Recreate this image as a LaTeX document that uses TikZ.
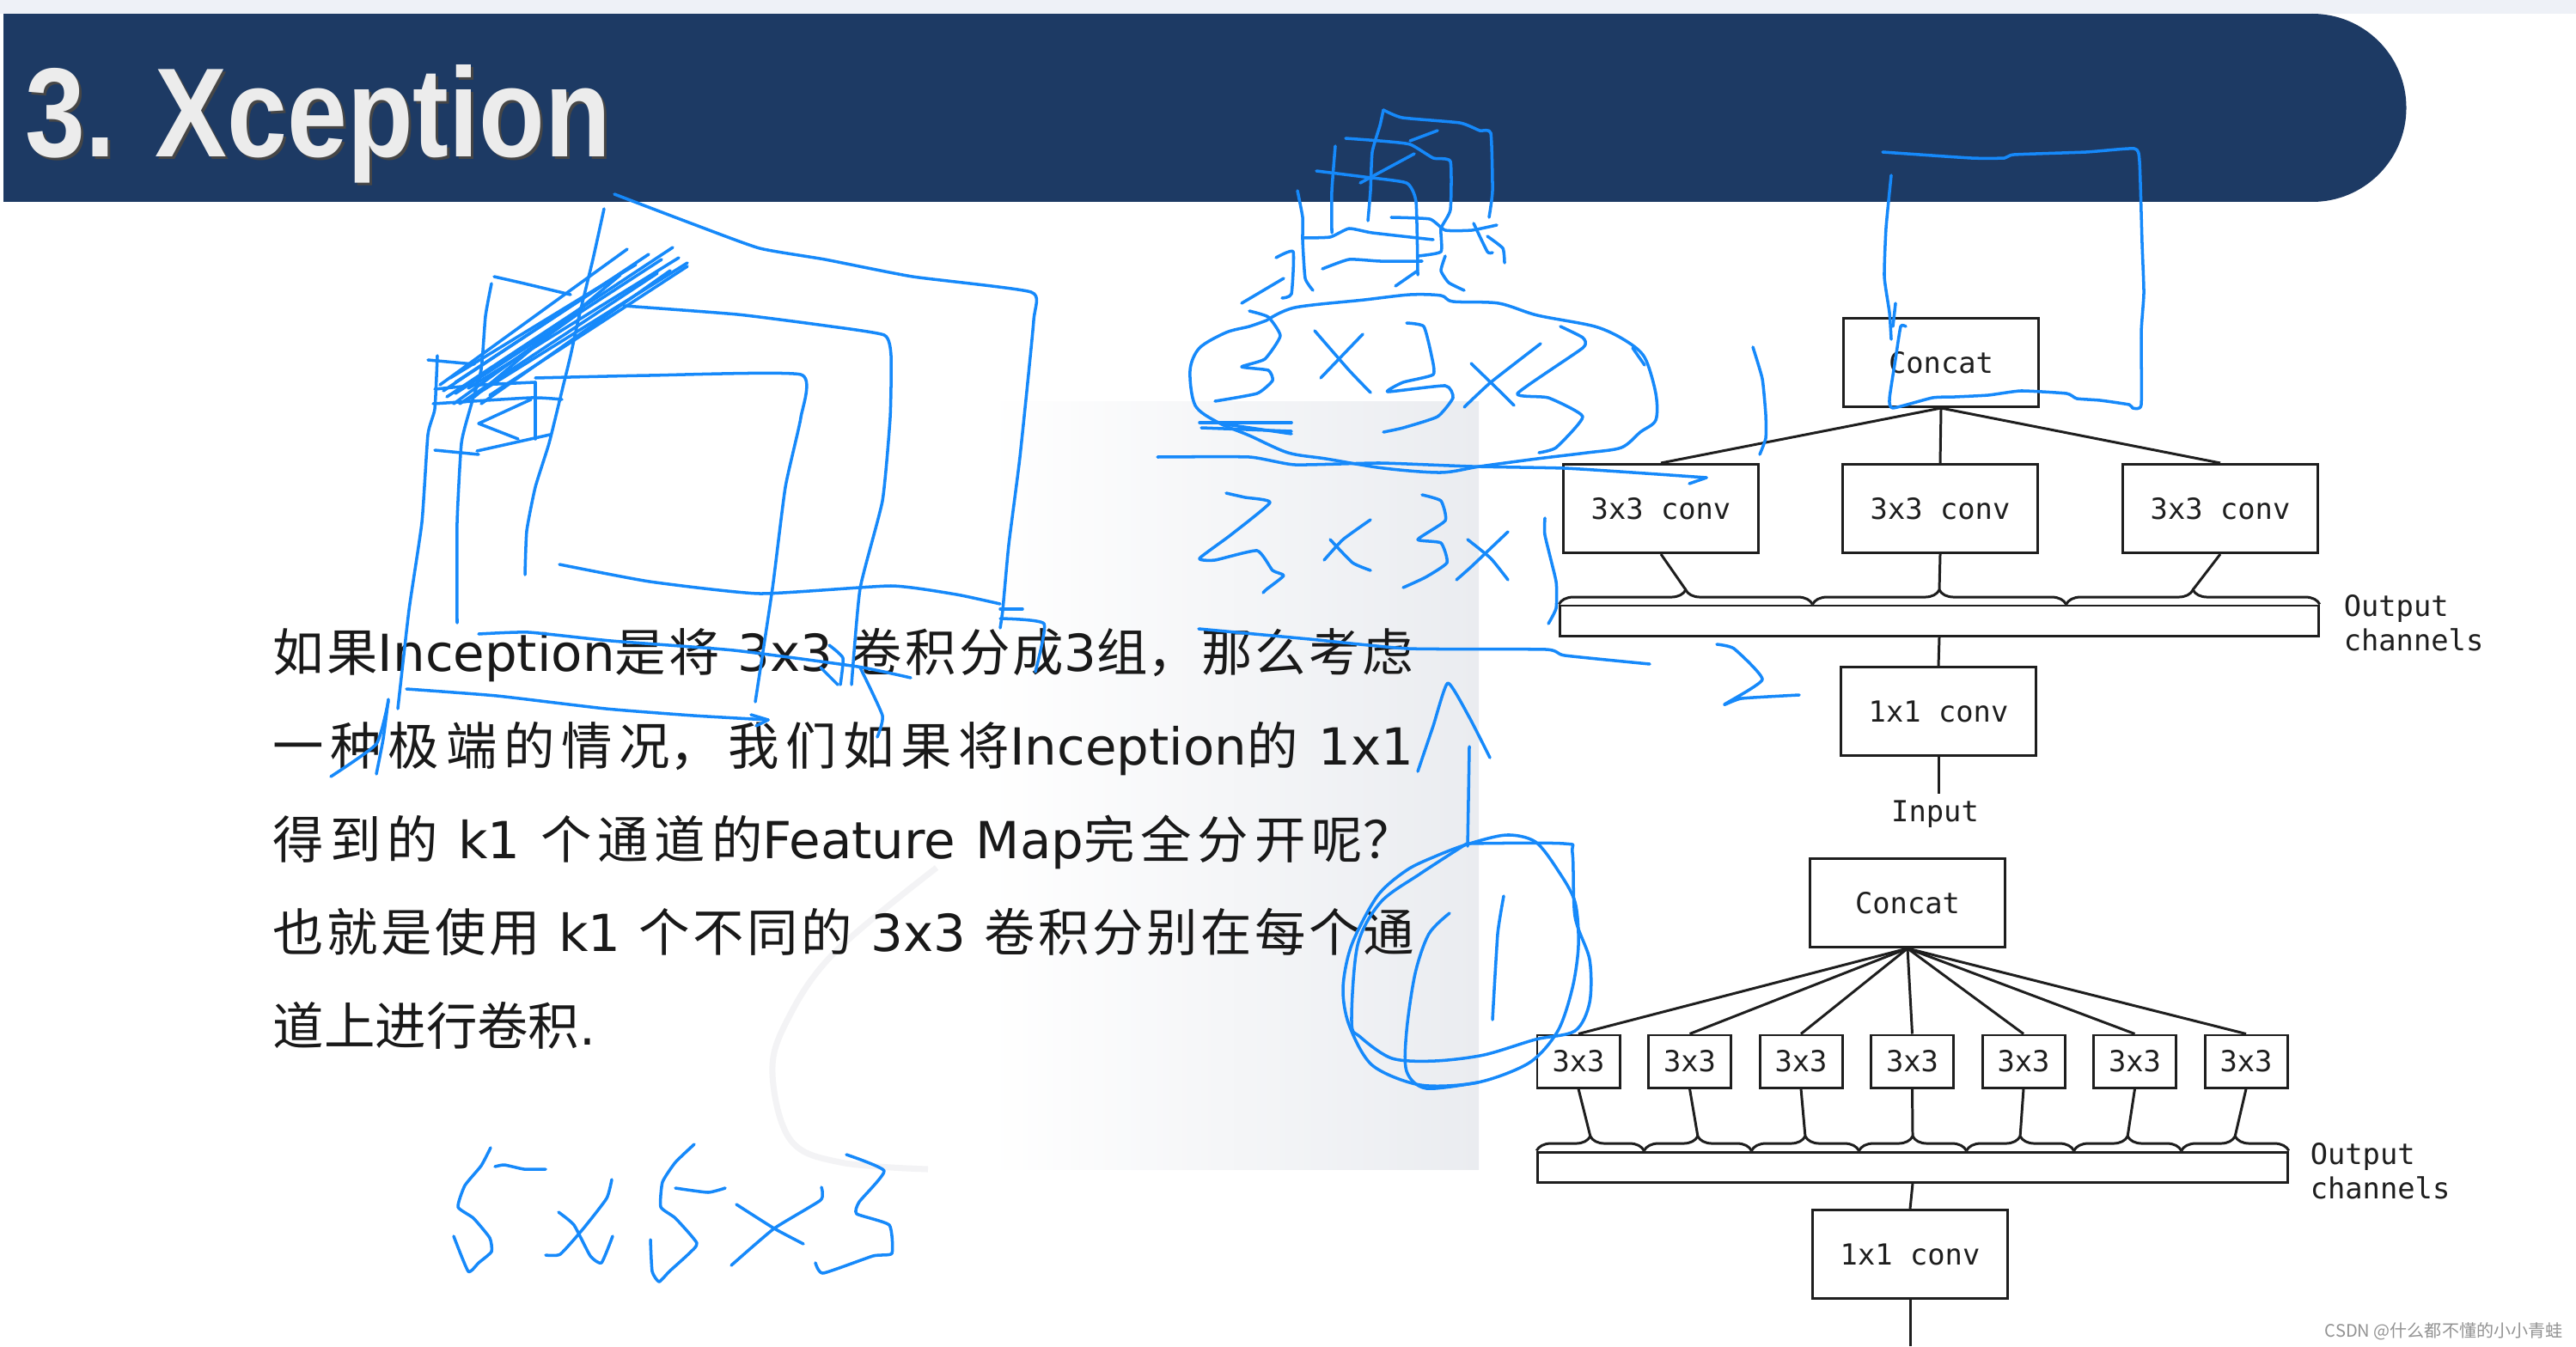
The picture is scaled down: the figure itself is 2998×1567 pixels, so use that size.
\documentclass[tikz,border=0pt]{standalone}
\usepackage{fontspec}
\setmainfont{Liberation Sans}
\newfontfamily\cjkfont{Noto Sans CJK SC}
\newfontfamily\latfont{DejaVu Sans}
\newfontfamily\diagfont{DejaVu Sans Mono}
\usetikzlibrary{decorations.pathreplacing,calc,positioning}
\XeTeXlinebreaklocale "zh"
\XeTeXlinebreakskip=0pt plus 4pt
\newcommand\jline[1]{\parbox[t]{13.27cm}{\parfillskip=0pt\parindent=0pt\rightskip=0pt\leftskip=0pt #1}}
\definecolor{TitleBlue}{RGB}{29,58,100}
\definecolor{TopStrip}{RGB}{238,241,247}
\definecolor{PanelGray}{RGB}{234,236,240}
\definecolor{FaintArc}{RGB}{243,243,245}
\definecolor{InkBlue}{RGB}{22,137,250}
\definecolor{DiagLine}{RGB}{30,30,30}
\definecolor{TitleFace}{RGB}{236,236,236}

\begin{document}
\begin{tikzpicture}[x=0.01cm,y=-0.01cm,
  box/.style={draw=DiagLine,line width=0.85pt,minimum width=2.26cm,minimum height=1.03cm,inner sep=0pt,text=DiagLine,font=\diagfont\fontsize{9.6}{11.4}\selectfont},
  smallbox/.style={box,minimum width=0.96cm,minimum height=0.61cm},
  chanbar/.style={draw=DiagLine,line width=0.85pt,fill=white,minimum height=0.35cm,inner sep=0pt},
  chanlabel/.style={anchor=west,align=left,inner sep=0pt,text=DiagLine,font=\diagfont\fontsize{9.6}{11.4}\selectfont},
  wire/.style={draw=DiagLine,line width=0.85pt},
  chbrace/.style={wire,decorate,decoration={brace,amplitude=4.8pt}},
  para/.style={anchor=base west,inner sep=0pt,text=black!90,font=\cjkfont\fontsize{16.9}{20}\selectfont},
  ink/.style={draw=InkBlue,line width=1pt,line cap=round,line join=round}
]
\useasboundingbox (0,0) rectangle (2998,1567);
\fill[white] (0,0) rectangle (2998,1567);

% title bar
\fill[TopStrip] (0,0) rectangle (2998,16);
\fill[TitleBlue] (4,16) rectangle (2691,235);
\fill[TitleBlue] (2691,125.5) circle[radius=109.5];
\node[anchor=base west,inner sep=0pt,text=gray!55!black] (titleshadow) at (32,186)
  {\fontsize{42}{42}\selectfont\bfseries\scalebox{0.85}[1]{3. Xception}};
\node[anchor=base west,inner sep=0pt,text=TitleFace] (title) at (29,183)
  {\fontsize{42}{42}\selectfont\bfseries\scalebox{0.85}[1]{3. Xception}};

% slide background panel
\shade[left color=white,right color=PanelGray] (1150,467) rectangle (1721,1361);
\draw[FaintArc,line width=2pt] plot[smooth,tension=0.6] coordinates {(1090,1010) (970,1110) (915,1190) (899,1250) (920,1327) (978,1353) (1080,1361)};

% text
\node[para] (line1) at (317,781) {\jline{如果{\latfont Inception}是将{\latfont{} 3x3 }卷积分成{\latfont 3}组，那么考虑}};
\node[para] (line2) at (317,890) {\jline{一种极端的情况，我们如果将{\latfont Inception}的{\latfont{} 1x1}}};
\node[para] (line3) at (317,999) {\jline{得到的{\latfont{} k1 }个通道的{\latfont Feature Map}完全分开呢？}};
\node[para] (line4) at (317,1107) {\jline{也就是使用{\latfont{} k1 }个不同的{\latfont{} 3x3 }卷积分别在每个通}};
\node[para] (line5) at (317,1216) {道上进行卷积{\latfont .}};

% upper figure: grouped 3x3 convs
\node[box] (concatA) at (2259,422) {Concat};
\node[box] (convA1) at (1933,592) {3x3 conv};
\node[box] (convA2) at (2258,592) {3x3 conv};
\node[box] (convA3) at (2584,592) {3x3 conv};
\node[chanbar,minimum width=8.82cm] (barA) at (2257,722.5) {};
\node[box] (oneA) at (2256,828) {1x1 conv};
\node[chanlabel] (chanA) at (2727,725) {Output\\channels};
\node[inner sep=2pt,text=DiagLine,font=\diagfont\fontsize{9.6}{11.4}\selectfont] (inputA) at (2252,948) {Input};
\foreach \k in {1,2,3}{
  \draw[wire] (concatA.south) -- (convA\k.north);
  \draw[chbrace] ($(barA.north west)!{(\k-1)/3}!(barA.north east)$) -- ($(barA.north west)!{\k/3}!(barA.north east)$);
  \coordinate (tipA\k) at ($($(barA.north west)!{(\k-0.5)/3}!(barA.north east)$)+(0,-17)$);
  \draw[wire] (convA\k.south) -- (tipA\k);
}
\draw[wire] (barA.south) -- (oneA.north);
\draw[wire] (oneA.south) -- (oneA.south |- inputA.north);

% lower figure: one 3x3 per channel
\node[box] (concatB) at (2220,1051) {Concat};
\node[chanbar,minimum width=8.72cm] (barB) at (2226,1358.5) {};
\node[box] (oneB) at (2223,1460) {1x1 conv};
\node[chanlabel] (chanB) at (2688,1363.5) {Output\\channels};
\coordinate (inB) at (2223,1567);
\foreach \k in {1,...,7}{
  \node[smallbox] (sepB\k) at ({1837+129.5*(\k-1)},1235.5) {3x3};
  \draw[wire] (concatB.south) -- (sepB\k.north);
  \draw[chbrace] ($(barB.north west)!{(\k-1)/7}!(barB.north east)$) -- ($(barB.north west)!{\k/7}!(barB.north east)$);
  \coordinate (tipB\k) at ($($(barB.north west)!{(\k-0.5)/7}!(barB.north east)$)+(0,-17)$);
  \draw[wire] (sepB\k.south) -- (tipB\k);
}
\draw[wire] (barB.south) -- (oneB.north);
\draw[wire] (oneB.south) -- (inB);

% handwriting: squares on the left
\draw[ink] plot[smooth,tension=0.3] coordinates {(715,226) (807,261) (884,289) (960,302) (1062,322) (1200,340) (1203,373) (1187,532) (1174,634) (1167,710) (1164,731)};
\draw[ink] (1164,709) -- (1190,709);
\draw[ink] plot[smooth,tension=0.3] coordinates {(1164,720) (1215,726) (1205,782)};
\draw[ink] plot[smooth,tension=0.3] coordinates {(726,356) (858,366) (960,379) (1029,390) (1037,414) (1036,486) (1027,583) (1001,685) (991,797)};
\draw[ink] plot[smooth,tension=0.3] coordinates {(623,440) (756,437) (932,436) (932,486) (914,567) (899,685) (879,817)};
\draw[ink] plot[smooth,tension=0.3] coordinates {(651,657) (756,677) (884,691) (1037,682) (1113,692) (1164,703)};
\draw[ink] plot[smooth,tension=0.3] coordinates {(703,243) (690,302) (674,368) (664,414) (654,455) (639,516) (623,567) (613,618) (611,669)};
\draw[ink] plot[smooth,tension=0.3] coordinates {(572,330) (565,368) (560,430) (547,476) (537,516) (532,608) (532,725)};
\draw[ink] plot[smooth,tension=0.3] coordinates {(509,414) (506,476) (498,506) (491,608) (476,710) (463,825)};
\draw[ink] plot[smooth,tension=0.3] coordinates {(575,322) (610,330) (664,343)};
\draw[ink] (498,419) -- (552,424);
\draw[ink] plot[smooth,tension=0.3] coordinates {(506,453) (560,448) (623,445)};
\draw[ink] plot[smooth,tension=0.3] coordinates {(504,470) (618,463) (654,465)};
\draw[ink] (506,524) -- (557,529);
\draw[ink] (618,465) -- (557,493) -- (603,511);
\draw[ink] (555,525) -- (640,506);
\draw[ink] (623,445) -- (623,511);
\foreach \ax/\ay/\bx/\by in {516/455/755/296, 520/462/783/288, 530/458/770/302, 540/468/800/306, 524/440/740/308, 535/470/765/318, 545/452/790/300, 552/462/722/320, 560/470/780/315, 530/445/705/330, 570/460/800/310, 528/470/680/360, 512/448/730/290}
  \draw[ink] (\ax,\ay) -- (\bx,\by);
\draw[ink] plot[smooth,tension=0.3] coordinates {(557,738) (615,736) (711,746) (854,757) (998,776) (1060,789)};
\draw[ink] plot[smooth,tension=0.3] coordinates {(965,751) (981,766) (978,797)};
\draw[ink] (955,777) -- (975,797);
\draw[ink] plot[smooth,tension=0.3] coordinates {(1001,777) (1027,833) (1021,858)};
\draw[ink] plot[smooth,tension=0.3] coordinates {(473,802) (578,810) (705,825) (807,833) (894,838)};
\draw[ink] (874,832) -- (894,838) -- (880,845);
\draw[ink] plot[smooth,tension=0.3] coordinates {(385,904) (438,866) (452,816)};
\draw[ink] plot[smooth,tension=0.3] coordinates {(452,814) (446,860) (438,901)};

% handwriting: middle
\draw[ink] plot[smooth,tension=0.3] coordinates {(1395,732) (1524,744) (1639,755) (1799,756) (1821,763) (1920,773)};
\draw[ink] plot[smooth,tension=0.3] coordinates {(1650,898) (1668,845) (1685,795) (1710,835) (1734,882)};
\draw[ink] plot[smooth,tension=0.3] coordinates {(1710,869) (1709,930) (1708,985)};
\draw[ink] plot[smooth cycle,tension=0.5] coordinates {(1707,983) (1753,972) (1787,980) (1813,1013) (1833,1050) (1837,1100) (1830,1150) (1813,1200) (1780,1237) (1720,1260) (1653,1263) (1597,1240) (1570,1193) (1563,1150) (1573,1100) (1603,1043) (1637,1013) (1670,997)};
\draw[ink] plot[smooth,tension=0.5] coordinates {(1707,982) (1820,982) (1830,993) (1833,1067) (1850,1117) (1850,1167) (1833,1200) (1787,1210) (1727,1228) (1670,1235) (1620,1232) (1583,1207) (1573,1190) (1580,1100) (1607,1050) (1653,1017) (1707,982)};
\draw[ink] plot[smooth,tension=0.5] coordinates {(1687,1063) (1663,1087) (1647,1133) (1637,1200) (1637,1247) (1660,1267) (1720,1260)};
\draw[ink] plot[smooth,tension=0.3] coordinates {(1750,1043) (1743,1087) (1737,1187)};

% handwriting: ellipse with 3x3x2
\draw[ink] plot[smooth,tension=0.5] coordinates {(1474,373) (1507,358) (1588,349) (1641,343) (1677,344) (1691,351) (1744,353) (1789,367) (1856,380) (1891,396) (1914,416) (1927,458) (1927,489) (1909,503) (1887,521) (1847,527) (1789,534) (1722,543) (1677,550) (1610,545) (1543,534) (1499,527) (1454,507) (1418,492) (1391,472) (1385,431) (1396,405) (1427,387) (1454,380) (1474,373)};
\draw[ink] (1900,405) -- (1914,425);
\draw[ink] plot[smooth,tension=0.3] coordinates {(1454,362) (1476,369) (1490,391) (1472,418) (1445,427) (1476,431) (1481,443) (1463,458) (1414,467)};
\draw[ink] plot[smooth,tension=0.3] coordinates {(1530,385) (1570,431) (1595,457)};
\draw[ink] (1586,389) -- (1537,440);
\draw[ink] plot[smooth,tension=0.3] coordinates {(1637,376) (1657,380) (1666,414) (1668,436) (1633,445) (1615,456) (1682,449) (1691,463) (1673,485) (1633,498) (1610,503)};
\draw[ink] plot[smooth,tension=0.3] coordinates {(1712,423) (1744,454) (1762,472)};
\draw[ink] plot[smooth,tension=0.3] coordinates {(1793,400) (1735,445) (1704,474)};
\draw[ink] plot[smooth,tension=0.3] coordinates {(1816,380) (1842,393) (1842,405) (1766,458) (1802,463) (1842,485) (1811,521) (1791,527)};
\draw[ink] (1396,492) -- (1503,492);
\draw[ink] (1398,498) -- (1503,502);
\draw[ink] (1427,494) -- (1503,505);
\draw[ink] plot[smooth,tension=0.3] coordinates {(1347,532) (1454,532) (1507,541) (1606,539) (1713,543) (1820,545) (1900,550) (1986,556)};
\draw[ink] (1966,563) -- (1986,556);
% 2x3x row
\draw[ink] plot[smooth,tension=0.3] coordinates {(1427,574) (1449,579) (1478,585) (1432,623) (1396,650) (1414,652) (1463,641) (1481,664) (1494,670) (1474,686) (1470,690)};
\draw[ink] plot[smooth,tension=0.3] coordinates {(1595,605) (1563,628) (1541,652)};
\draw[ink] plot[smooth,tension=0.3] coordinates {(1548,628) (1574,655) (1595,664)};
\draw[ink] plot[smooth,tension=0.3] coordinates {(1655,576) (1677,583) (1682,606) (1650,628) (1677,632) (1684,655) (1659,672) (1633,684)};
\draw[ink] plot[smooth,tension=0.3] coordinates {(1708,628) (1735,650) (1755,675)};
\draw[ink] plot[smooth,tension=0.3] coordinates {(1755,619) (1713,659) (1695,675)};
\draw[ink] plot[smooth,tension=0.3] coordinates {(1798,603) (1798,623) (1811,677) (1811,708) (1802,726)};
\draw[ink] plot[smooth,tension=0.3] coordinates {(2040,404) (2051,441) (2055,483) (2055,510) (2048,529)};
\draw[ink] plot[smooth,tension=0.3] coordinates {(1998,750) (2018,755) (2051,791) (2007,820) (2027,813) (2094,809)};

% handwriting: sketch above the ellipse
\draw[ink] plot[smooth,tension=0.3] coordinates {(1610,128) (1606,146) (1597,177) (1595,222) (1592,257)};
\draw[ink] plot[smooth,tension=0.3] coordinates {(1610,128) (1632,137) (1699,143) (1722,152) (1735,155) (1737,222) (1733,253)};
\draw[ink] plot[smooth,tension=0.3] coordinates {(1566,161) (1606,164) (1641,168) (1668,184) (1688,188) (1688,244) (1677,266) (1677,293) (1650,298)};
\draw[ink] plot[smooth,tension=0.3] coordinates {(1554,170) (1550,222) (1550,271)};
\draw[ink] plot[smooth,tension=0.3] coordinates {(1532,199) (1588,206) (1637,213) (1648,235) (1650,320)};
\draw[ink] plot[smooth,tension=0.3] coordinates {(1510,222) (1516,253) (1516,280) (1519,324) (1528,338)};
\draw[ink] plot[smooth,tension=0.3] coordinates {(1516,277) (1548,276) (1570,266) (1597,271) (1668,279)};
\draw[ink] plot[smooth,tension=0.3] coordinates {(1539,313) (1570,302) (1606,304) (1655,304)};
\draw[ink] (1583,213) -- (1646,179);
\draw[ink] (1641,164) -- (1673,152);
\draw[ink] plot[smooth,tension=0.3] coordinates {(1619,253) (1664,255) (1682,268) (1713,268) (1742,262)};
\draw[ink] plot[smooth,tension=0.3] coordinates {(1715,260) (1731,293) (1737,294)};
\draw[ink] plot[smooth,tension=0.3] coordinates {(1731,275) (1749,289) (1751,306)};
\draw[ink] plot[smooth,tension=0.3] coordinates {(1485,300) (1505,293) (1503,342) (1492,347)};
\draw[ink] (1445,353) -- (1494,324);
\draw[ink] plot[smooth,tension=0.3] coordinates {(1682,298) (1677,315) (1686,329) (1704,338)};
\draw[ink] (1624,333) -- (1650,315);

% handwriting: frame round the upper Concat
\draw[ink] plot[smooth,tension=0.3] coordinates {(2191,177) (2294,184) (2333,184) (2344,180) (2428,177) (2484,173) (2490,188) (2493,284) (2495,341) (2492,387) (2492,471) (2482,475) (2478,471) (2444,466) (2417,464) (2405,458) (2352,455) (2314,460) (2275,462) (2249,463) (2203,475) (2199,464) (2206,418) (2212,380) (2218,380)};
\draw[ink] plot[smooth,tension=0.3] coordinates {(2201,204) (2195,265) (2193,322) (2199,364) (2201,395)};
\draw[ink] (2206,353) -- (2203,380);

% handwriting: 5x5x3
\draw[ink] plot[smooth,tension=0.3] coordinates {(571,1336) (560,1357) (541,1380) (533,1405) (551,1418) (570,1441) (572,1457) (557,1470) (545,1480) (528,1439)};
\draw[ink] plot[smooth,tension=0.3] coordinates {(576,1358) (587,1356) (610,1361) (635,1361)};
\draw[ink] plot[smooth,tension=0.3] coordinates {(650,1411) (668,1426) (687,1462) (700,1470) (713,1439)};
\draw[ink] plot[smooth,tension=0.3] coordinates {(712,1373) (706,1395) (679,1430) (652,1460) (635,1461)};
\draw[ink] plot[smooth,tension=0.3] coordinates {(808,1332) (786,1353) (771,1376) (769,1405) (786,1418) (811,1447) (801,1460) (779,1480) (767,1492) (759,1480) (757,1443)};
\draw[ink] plot[smooth,tension=0.3] coordinates {(786,1383) (824,1388) (844,1383)};
\draw[ink] plot[smooth,tension=0.3] coordinates {(857,1402) (901,1430) (935,1448)};
\draw[ink] plot[smooth,tension=0.3] coordinates {(956,1382) (955,1397) (901,1430) (851,1473)};
\draw[ink] plot[smooth,tension=0.3] coordinates {(985,1344) (1029,1363) (1000,1399) (997,1413) (1035,1426) (1038,1459) (1016,1462) (958,1482) (949,1470)};

% watermark
\node[anchor=base east,inner sep=0pt,text=gray!85,font=\cjkfont\fontsize{5.7}{6}\selectfont] (mark) at (2983,1556) {CSDN @什么都不懂的小小青蛙};
\end{tikzpicture}
\end{document}
